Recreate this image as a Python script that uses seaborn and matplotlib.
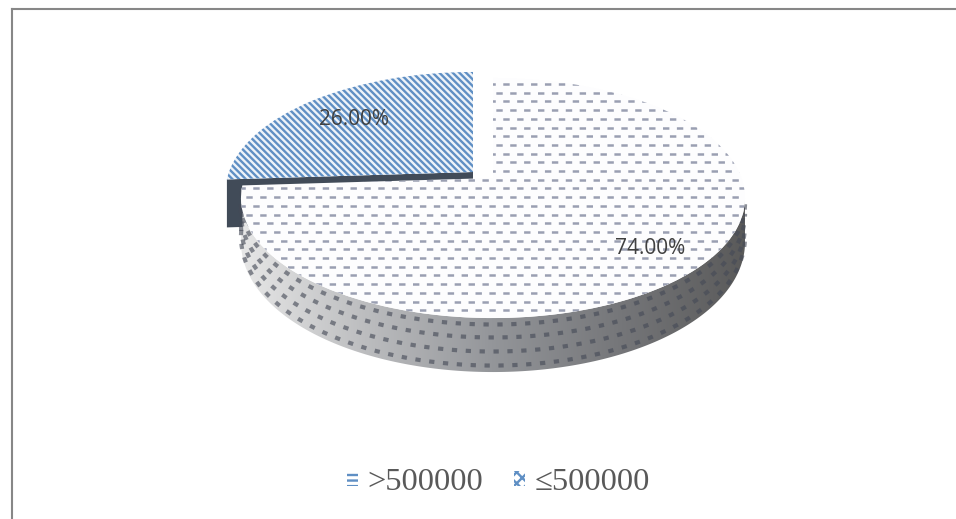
import numpy as np
import seaborn as sns
import matplotlib
matplotlib.use("Agg")
import matplotlib.pyplot as plt
from matplotlib.patches import Patch
from matplotlib.path import Path
from matplotlib.transforms import Transform, Affine2D

# Shares of the two income groups
categories = [">500000", "≤500000"]
shares = [74.0, 26.0]

# Colours
border_colour = "#878787"
label_colour = "#404040"
legend_colour = "#595959"
dash_colour = "#9a9fb2"
stripe_colour = "#5f8fc4"
slice_wall_colour = "#414b58"
wall_stops = ["#e8e8e8", "#bcbdbf", "#94969a", "#76777a", "#5a5a5a"]

sns.set_theme(style="white", rc={
    "lines.scale_dashes": False,
    "hatch.linewidth": 1.7,
    "axes.edgecolor": border_colour,
})

W, H = 956, 519
fig = plt.figure(figsize=(W / 100, H / 100), dpi=100, facecolor="white")
ax = fig.add_axes([12 / W, 0, 1 - 12 / W, 1 - 9 / H])
sns.despine(ax=ax, top=False, right=True, left=False, bottom=True)
for side in ("left", "top"):
    ax.spines[side].set_linewidth(1.5)


class TiltedDisc(Transform):
    """Projects the unit disc of the pie onto a tilted plane, in pixel units."""
    input_dims = 2
    output_dims = 2
    is_separable = False
    has_inverse = False

    def __init__(self, cx, cy, half_w, half_h, tilt):
        super().__init__()
        self.params = (cx, cy, half_w, half_h, tilt)

    def transform_non_affine(self, values):
        cx, cy, hw, hh, k = self.params
        values = np.asarray(values, dtype=float)
        u, v = values[:, 0], values[:, 1]
        w = 1 + k * v
        return np.column_stack([cx + hw * u / w, cy - hh * v / w])


disc = TiltedDisc(493, 178, 248.5, 116.7, 1 / 6)
slice_disc = TiltedDisc(473, 172, 244.0, 116.7, 1 / 6)

wedges, _, pct_texts = ax.pie(
    shares, startangle=90, counterclock=False, radius=1, frame=True,
    autopct="%.2f%%", pctdistance=0.79,
    wedgeprops={"linewidth": 0},
)
main, side_slice = wedges
main_tf = disc + ax.transData
slice_tf = slice_disc + ax.transData
main.set_transform(main_tf)
side_slice.set_transform(slice_tf)
main.set(facecolor="#fdfdfe", edgecolor="none", zorder=5)
side_slice.set(facecolor="#eef3f9", edgecolor=stripe_colour, hatch="\\" * 5, zorder=2)

ax.set_xlim(12, W)
ax.set_ylim(H, 9)
ax.set_aspect("auto")
ax.set_xticks([])
ax.set_yticks([])


def rim(theta_deg, projection=disc):
    t = np.radians(theta_deg)
    return projection.transform_non_affine(np.column_stack([np.cos(t), np.sin(t)]))


def wall_depth(theta_deg):
    # The near side of the disc looks thicker than its far side
    return 42 - 12 * np.sin(np.radians(theta_deg))


# Front wall of the large slice, shaded from left to right
thetas = np.linspace(main.theta1, -9.6, 300)
top_rim = rim(thetas)
low_rim = top_rim + np.column_stack([np.zeros_like(thetas), wall_depth(thetas)])
wall_path = Path(np.vstack([top_rim, low_rim[::-1], top_rim[:1]]), closed=True)
wall_cmap = sns.blend_palette(wall_stops, as_cmap=True)
image = ax.imshow(np.linspace(0, 1, 256)[None, :], cmap=wall_cmap, aspect="auto",
                  extent=(238, 745, 380, 180), zorder=3)
image.set_clip_path(wall_path, ax.transData)
ax.set_xlim(12, W)
ax.set_ylim(H, 9)

# Rows of dark flecks along the wall
for row, frac in enumerate([0.12, 0.36, 0.62, 0.88]):
    ax.plot(top_rim[:, 0], top_rim[:, 1] + frac * wall_depth(thetas),
            color="#454a57", alpha=0.62, lw=3.0, solid_capstyle="butt",
            dash_capstyle="butt", zorder=4,
            linestyle=(row * 5.0, (3.8, 6.2)))

# Dash pattern on the top face of the large slice
rows = np.arange(84, 322, 8.7)
for i, offset in enumerate((0.0, 5.0)):
    lines = ax.hlines(rows[i::2], 225, 755, color=dash_colour, lw=1.8,
                      linestyles=[(offset, (4.6, 5.4))], zorder=6)
    lines.set_capstyle("butt")
    lines.set_clip_path(main)

# Inner wall of the pulled-out slice
a = rim(np.array([side_slice.theta2]), slice_disc)[0]
b = np.array(slice_disc.params[:2], dtype=float)
ax.fill([a[0], b[0], b[0], a[0]], [a[1], b[1], b[1] + 48, a[1] + 48],
        color=slice_wall_colour, lw=0, zorder=1)

# Percentage labels sit on the tilted faces
text_shift = Affine2D().translate(0, 1.5)
for text, proj, scale in zip(pct_texts, (disc, slice_disc), (1.0, 0.92)):
    x, y = text.get_position()
    text.set_position((x * scale, y * scale))
    text.set_transform(proj + text_shift + ax.transData)
    text.set(color=label_colour, fontsize=15, family="Open Sans", zorder=8,
             ha="center", va="center")

handles = [
    Patch(facecolor="white", edgecolor=stripe_colour, hatch="---", lw=0, label=categories[0]),
    Patch(facecolor="white", edgecolor=stripe_colour, hatch="xxx", lw=0, label=categories[1]),
]
legend = ax.legend(
    handles=handles, ncol=2, frameon=False, loc="center",
    bbox_to_anchor=(498.5, 483), bbox_transform=ax.transData,
    prop={"family": "Liberation Serif", "size": 23.4},
    handlelength=0.34, handleheight=0.34, handletextpad=0.3,
    columnspacing=0.93, borderpad=0, borderaxespad=0,
    labelcolor=legend_colour,
)
legend.set_zorder(9)

fig.savefig("out.png", dpi=100, facecolor="white")
